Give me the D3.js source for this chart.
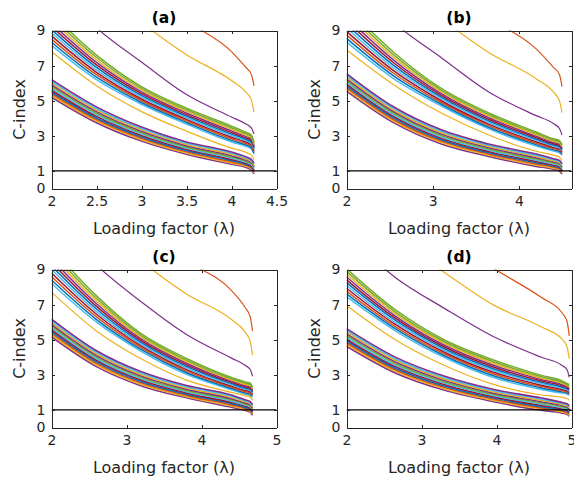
<!DOCTYPE html>
<html><head><meta charset="utf-8">
<script src="https://cdn.jsdelivr.net/npm/d3@7"></script>
<style>body{margin:0;background:#fff}svg{display:block}</style>
</head><body><svg id="chart" width="574" height="483"></svg>
<script>
// ---------- data ----------
const panelTitles = ["(a)", "(b)", "(c)", "(d)"];
const xLabelText = "Loading factor (λ)";
const yLabelText = "C-index";
const xDomains = [[2, 4.5], [2, 4.61], [2, 5], [2, 5]];
const xTickValues = [[2, 2.5, 3, 3.5, 4, 4.5], [2, 3, 4], [2, 3, 4, 5], [2, 3, 4, 5]];
const yDomain = [0, 9];
const yTickValues = [0, 1, 3, 5, 7, 9];
const thresholdValue = 1;

// λ sample positions of each panel
const lambdaA = [2, 2.5, 3, 3.5, 4, 4.15, 4.22, 4.25];
const lambdaB = [2, 2.55, 3.1, 3.65, 4.2, 4.4, 4.47, 4.5];
const lambdaC = [2, 2.6, 3.2, 3.8, 4.4, 4.58, 4.65, 4.68];
const lambdaD = [2, 2.65, 3.3, 3.95, 4.6, 4.87, 4.94, 4.97];

// lower bundle curves (bottom to top)
const lowerA = [
  [5.20, 3.75, 2.70, 1.95, 1.38, 1.22, 1.06, 0.83],
  [5.30, 3.84, 2.78, 2.02, 1.45, 1.28, 1.12, 0.89],
  [5.40, 3.93, 2.86, 2.09, 1.52, 1.34, 1.18, 0.95],
  [5.50, 4.02, 2.94, 2.16, 1.59, 1.40, 1.24, 1.01],
  [5.60, 4.11, 3.02, 2.23, 1.66, 1.46, 1.30, 1.07],
  [5.70, 4.20, 3.10, 2.30, 1.73, 1.52, 1.36, 1.13],
  [5.80, 4.29, 3.18, 2.37, 1.80, 1.58, 1.42, 1.19],
  [5.90, 4.38, 3.26, 2.44, 1.87, 1.64, 1.48, 1.25],
  [6.00, 4.47, 3.34, 2.51, 1.94, 1.70, 1.54, 1.31],
  [6.10, 4.56, 3.42, 2.58, 2.01, 1.76, 1.60, 1.37],
  [6.20, 4.65, 3.50, 2.65, 2.08, 1.82, 1.66, 1.43]
];
const upperA = [
  [8.15, 6.20, 4.80, 3.67, 2.65, 2.42, 2.25, 1.95],
  [8.33, 6.34, 4.90, 3.76, 2.74, 2.50, 2.33, 2.02],
  [8.51, 6.48, 5.00, 3.85, 2.83, 2.58, 2.41, 2.09],
  [8.69, 6.62, 5.10, 3.94, 2.92, 2.66, 2.49, 2.16],
  [8.87, 6.76, 5.20, 4.03, 3.01, 2.74, 2.57, 2.23],
  [9.05, 6.90, 5.30, 4.12, 3.10, 2.82, 2.65, 2.30],
  [9.23, 7.04, 5.40, 4.21, 3.19, 2.90, 2.73, 2.37],
  [9.41, 7.18, 5.50, 4.30, 3.28, 2.98, 2.81, 2.44],
  [9.59, 7.32, 5.60, 4.39, 3.37, 3.06, 2.89, 2.51],
  [9.77, 7.46, 5.70, 4.48, 3.46, 3.14, 2.97, 2.58],
  [9.95, 7.60, 5.80, 4.57, 3.55, 3.22, 3.05, 2.65]
];
const outliersA = [
  [7.8, 5.85, 4.38, 3.27, 2.3, 2.08, 1.9, 1.66],
  [11.8, 9.15, 7.2, 5.35, 4.07, 3.7, 3.45, 3.1],
  [14, 11.5, 9.45, 7.62, 6.15, 5.55, 5.05, 4.35],
  [18, 14.8, 12, 9.6, 7.8, 6.95, 6.5, 5.85]
];

const lowerB = [
  [5.55, 3.74, 2.54, 1.83, 1.26, 1.10, 1.00, 0.82],
  [5.65, 3.83, 2.62, 1.90, 1.33, 1.16, 1.06, 0.88],
  [5.75, 3.92, 2.70, 1.97, 1.40, 1.22, 1.12, 0.94],
  [5.85, 4.01, 2.78, 2.04, 1.47, 1.28, 1.18, 1.00],
  [5.95, 4.10, 2.86, 2.11, 1.54, 1.34, 1.24, 1.06],
  [6.05, 4.19, 2.94, 2.18, 1.61, 1.40, 1.30, 1.12],
  [6.15, 4.28, 3.02, 2.25, 1.68, 1.46, 1.36, 1.18],
  [6.25, 4.37, 3.10, 2.32, 1.75, 1.52, 1.42, 1.24],
  [6.35, 4.46, 3.18, 2.39, 1.82, 1.58, 1.48, 1.30],
  [6.45, 4.55, 3.26, 2.46, 1.89, 1.64, 1.54, 1.36],
  [6.55, 4.64, 3.34, 2.53, 1.96, 1.70, 1.60, 1.42]
];
const upperB = [
  [8.35, 6.25, 4.70, 3.40, 2.42, 2.13, 2.03, 1.90],
  [8.55, 6.40, 4.80, 3.49, 2.50, 2.20, 2.10, 1.96],
  [8.75, 6.55, 4.90, 3.58, 2.58, 2.27, 2.17, 2.02],
  [8.95, 6.70, 5.00, 3.67, 2.66, 2.34, 2.24, 2.08],
  [9.15, 6.85, 5.10, 3.76, 2.74, 2.41, 2.31, 2.14],
  [9.35, 7.00, 5.20, 3.85, 2.82, 2.48, 2.38, 2.20],
  [9.55, 7.15, 5.30, 3.94, 2.90, 2.55, 2.45, 2.26],
  [9.75, 7.30, 5.40, 4.03, 2.98, 2.62, 2.52, 2.32],
  [9.95, 7.45, 5.50, 4.12, 3.06, 2.69, 2.59, 2.38],
  [10.15, 7.60, 5.60, 4.21, 3.14, 2.76, 2.66, 2.44],
  [10.35, 7.75, 5.70, 4.30, 3.22, 2.83, 2.73, 2.50]
];
const outliersB = [
  [7.9, 5.9, 4.3, 3.05, 2.12, 1.9, 1.78, 1.6],
  [12.2, 9.45, 7.45, 5.5, 4.15, 3.7, 3.42, 3.05],
  [14, 12, 9.7, 7.75, 6.25, 5.5, 5.0, 4.32],
  [18, 15, 12, 9.75, 7.95, 6.9, 6.5, 5.8]
];

const lowerC = [
  [5.17, 3.47, 2.37, 1.69, 1.15, 0.98, 0.87, 0.70],
  [5.27, 3.56, 2.45, 1.76, 1.22, 1.04, 0.93, 0.76],
  [5.37, 3.65, 2.53, 1.83, 1.29, 1.10, 0.99, 0.82],
  [5.47, 3.74, 2.61, 1.90, 1.36, 1.16, 1.05, 0.88],
  [5.57, 3.83, 2.69, 1.97, 1.43, 1.22, 1.11, 0.94],
  [5.67, 3.92, 2.77, 2.04, 1.50, 1.28, 1.17, 1.00],
  [5.77, 4.01, 2.85, 2.11, 1.57, 1.34, 1.23, 1.06],
  [5.87, 4.10, 2.93, 2.18, 1.64, 1.40, 1.29, 1.12],
  [5.97, 4.19, 3.01, 2.25, 1.71, 1.46, 1.35, 1.18],
  [6.07, 4.28, 3.09, 2.32, 1.78, 1.52, 1.41, 1.24],
  [6.17, 4.37, 3.17, 2.39, 1.85, 1.58, 1.47, 1.30]
];
const upperC = [
  [8.20, 6.00, 4.33, 3.03, 2.15, 1.90, 1.82, 1.72],
  [8.40, 6.15, 4.43, 3.12, 2.22, 1.97, 1.89, 1.78],
  [8.60, 6.30, 4.53, 3.21, 2.29, 2.04, 1.96, 1.84],
  [8.80, 6.45, 4.63, 3.30, 2.36, 2.11, 2.03, 1.90],
  [9.00, 6.60, 4.73, 3.39, 2.43, 2.18, 2.10, 1.96],
  [9.20, 6.75, 4.83, 3.48, 2.50, 2.25, 2.17, 2.02],
  [9.40, 6.90, 4.93, 3.57, 2.57, 2.32, 2.24, 2.08],
  [9.60, 7.05, 5.03, 3.66, 2.64, 2.39, 2.31, 2.14],
  [9.80, 7.20, 5.13, 3.75, 2.71, 2.46, 2.38, 2.20],
  [10.00, 7.35, 5.23, 3.84, 2.78, 2.53, 2.45, 2.26],
  [10.20, 7.50, 5.33, 3.93, 2.85, 2.60, 2.52, 2.32]
];
const outliersC = [
  [7.71, 5.5, 3.9, 2.7, 2.0, 1.82, 1.73, 1.55],
  [12, 9.25, 7.15, 5.3, 3.95, 3.55, 3.3, 2.92],
  [14.5, 12, 9.5, 7.6, 6.15, 5.45, 4.9, 4.13],
  [17, 14, 11.5, 9.5, 7.8, 6.85, 6.3, 5.5]
];

const lowerD = [
  [4.63, 3.11, 2.13, 1.48, 0.98, 0.83, 0.75, 0.65],
  [4.73, 3.20, 2.21, 1.55, 1.05, 0.89, 0.81, 0.71],
  [4.83, 3.29, 2.29, 1.62, 1.12, 0.95, 0.87, 0.77],
  [4.93, 3.38, 2.37, 1.69, 1.19, 1.01, 0.93, 0.83],
  [5.03, 3.47, 2.45, 1.76, 1.26, 1.07, 0.99, 0.89],
  [5.13, 3.56, 2.53, 1.83, 1.33, 1.13, 1.05, 0.95],
  [5.23, 3.65, 2.61, 1.90, 1.40, 1.19, 1.11, 1.01],
  [5.33, 3.74, 2.69, 1.97, 1.47, 1.25, 1.17, 1.07],
  [5.43, 3.83, 2.77, 2.04, 1.54, 1.31, 1.23, 1.13],
  [5.53, 3.92, 2.85, 2.11, 1.61, 1.37, 1.29, 1.19],
  [5.63, 4.01, 2.93, 2.18, 1.68, 1.43, 1.35, 1.25]
];
const upperD = [
  [7.45, 5.51, 4.00, 2.86, 2.17, 1.96, 1.91, 1.84],
  [7.61, 5.63, 4.10, 2.96, 2.25, 2.03, 1.97, 1.90],
  [7.77, 5.75, 4.20, 3.06, 2.33, 2.10, 2.03, 1.96],
  [7.93, 5.87, 4.30, 3.16, 2.41, 2.17, 2.09, 2.02],
  [8.09, 5.99, 4.40, 3.26, 2.49, 2.24, 2.15, 2.08],
  [8.25, 6.11, 4.50, 3.36, 2.57, 2.31, 2.21, 2.14],
  [8.41, 6.23, 4.60, 3.46, 2.65, 2.38, 2.27, 2.20],
  [8.57, 6.35, 4.70, 3.56, 2.73, 2.45, 2.33, 2.26],
  [8.73, 6.47, 4.80, 3.66, 2.81, 2.52, 2.39, 2.32],
  [8.89, 6.59, 4.90, 3.76, 2.89, 2.59, 2.45, 2.38],
  [9.05, 6.71, 5.00, 3.86, 2.97, 2.66, 2.51, 2.44]
];
const outliersD = [
  [6.95, 5.0, 3.55, 2.47, 1.85, 1.72, 1.65, 1.55],
  [11, 8.55, 6.8, 5.2, 4.0, 3.55, 3.3, 2.85],
  [13, 10.8, 8.85, 7.0, 5.72, 5.05, 4.6, 3.92],
  [15, 13, 11, 9.1, 7.4, 6.55, 6.05, 5.22]
];

// ---------- styles ----------
const lowerColors = ["#7E2F8E", "#EDB120", "#D95319", "#0072BD", "#A2142F", "#4DBEEE",
                     "#77AC30", "#7E2F8E", "#EDB120", "#4DBEEE", "#7E2F8E"];
const upperColors = ["#4DBEEE", "#0072BD", "#D95319", "#A2142F", "#4DBEEE", "#0072BD",
                     "#A2142F", "#7E2F8E", "#EDB120", "#77AC30", "#77AC30"];
const outlierColors = ["#EDB120", "#7E2F8E", "#EDB120", "#D95319"];
const axisColor = "#262626";
const fontFamily = "'DejaVu Sans', 'Liberation Sans', Arial, sans-serif";

const panels = [
  {lambda: lambdaA, lower: lowerA, upper: upperA, outliers: outliersA},
  {lambda: lambdaB, lower: lowerB, upper: upperB, outliers: outliersB},
  {lambda: lambdaC, lower: lowerC, upper: upperC, outliers: outliersC},
  {lambda: lambdaD, lower: lowerD, upper: upperD, outliers: outliersD}
];
const origins = [[51.5, 30.5], [346.5, 30.5], [51.5, 269.5], [346.5, 269.5]];
const W = 225, H = 158;

const svg = d3.select("#chart");
svg.append("rect").attr("width", 574).attr("height", 483).attr("fill", "#fff");

panels.forEach((p, i) => {
  const g = svg.append("g").attr("transform", `translate(${origins[i][0]},${origins[i][1]})`);
  const x = d3.scaleLinear().domain(xDomains[i]).range([0, W]);
  const y = d3.scaleLinear().domain(yDomain).range([H, 0]);

  const clipId = "clip" + i;
  g.append("clipPath").attr("id", clipId).append("rect").attr("width", W).attr("height", H);
  const plot = g.append("g").attr("clip-path", `url(#${clipId})`);

  const line = d3.line()
    .x((d, j) => x(p.lambda[j]))
    .y(d => y(d))
    .curve(d3.curveMonotoneX);

  const drawSet = (rows, colors, width) => {
    plot.append("g").selectAll("path").data(rows).join("path")
      .attr("d", line)
      .attr("fill", "none")
      .attr("stroke", (d, k) => colors[k % colors.length])
      .attr("stroke-width", width);
  };
  drawSet(p.lower, lowerColors, 1.6);
  drawSet(p.upper, upperColors, 1.5);
  drawSet(p.outliers, outlierColors, 1.2);

  plot.append("line")
    .attr("x1", 0).attr("x2", W)
    .attr("y1", y(thresholdValue)).attr("y2", y(thresholdValue))
    .attr("stroke", "#000").attr("stroke-width", 1.3);

  // axes (box with inward ticks)
  const styleAxis = sel => {
    sel.selectAll("path.domain").attr("stroke", axisColor).attr("stroke-width", 1);
    sel.selectAll(".tick line").attr("stroke", axisColor);
    sel.selectAll("text").attr("fill", axisColor).style("font-family", fontFamily).style("font-size", "14px");
  };
  g.append("g").attr("transform", `translate(0,${H})`)
    .call(d3.axisBottom(x).tickValues(xTickValues[i]).tickSizeInner(-3).tickSizeOuter(0).tickPadding(8)
      .tickFormat(d3.format("")))
    .call(styleAxis);
  g.append("g")
    .call(d3.axisTop(x).tickValues(xTickValues[i]).tickSizeInner(-3).tickSizeOuter(0).tickFormat(""))
    .call(styleAxis);
  g.append("g")
    .call(d3.axisLeft(y).tickValues(yTickValues).tickSizeInner(-3).tickSizeOuter(0).tickPadding(6))
    .call(styleAxis);
  g.append("g").attr("transform", `translate(${W},0)`)
    .call(d3.axisRight(y).tickValues(yTickValues).tickSizeInner(-3).tickSizeOuter(0).tickFormat(""))
    .call(styleAxis);
  g.selectAll(".domain, .tick line").attr("shape-rendering", "crispEdges");

  // texts
  g.append("text").attr("x", W / 2).attr("y", -7.5)
    .attr("text-anchor", "middle").attr("font-weight", "bold")
    .style("font-family", fontFamily).style("font-size", "15.5px").attr("fill", "#000")
    .text(panelTitles[i]);
  g.append("text").attr("x", W / 2).attr("y", H + 45)
    .attr("text-anchor", "middle")
    .style("font-family", fontFamily).style("font-size", "16px").attr("fill", axisColor)
    .text(xLabelText);
  g.append("text").attr("transform", "rotate(-90)")
    .attr("x", -H / 2).attr("y", -26.5)
    .attr("text-anchor", "middle")
    .style("font-family", fontFamily).style("font-size", "16px").attr("fill", axisColor)
    .text(yLabelText);
});
</script>
</body></html>
